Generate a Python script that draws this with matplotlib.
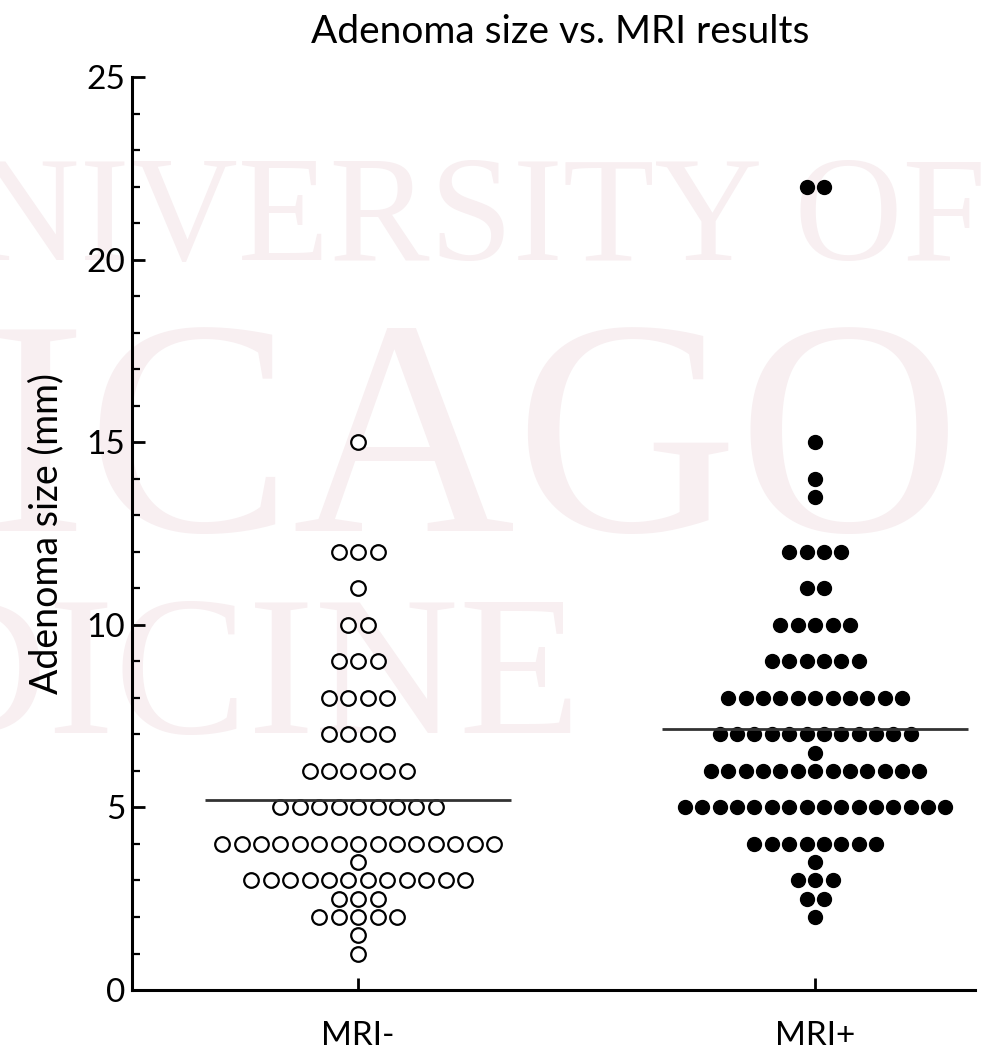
import numpy as np
import matplotlib.pyplot as plt

# adenoma size (mm) and how many patients sit on each size, per group
neg_sizes = [15, 12, 11, 10, 9, 8, 7, 6, 5, 4, 3.5, 3, 2.5, 2, 1.5, 1]
neg_counts = [1, 3, 1, 2, 3, 4, 4, 6, 9, 15, 1, 12, 3, 5, 1, 1]
pos_sizes = [22, 15, 14, 13.5, 12, 11, 10, 9, 8, 7, 6.5, 6, 5, 4, 3.5, 3, 2.5, 2]
pos_counts = [2, 1, 1, 1, 4, 2, 5, 6, 11, 12, 1, 13, 16, 8, 1, 3, 2, 1]
group_labels = ["MRI-", "MRI+"]
group_means = [5.2, 7.15]

FONT = ["Lato", "DejaVu Sans"]


def dot_columns(center, sizes, counts, step):
    xs, ys = [], []
    for s, n in zip(sizes, counts):
        off = (np.arange(n) - (n - 1) / 2.0) * step
        xs.extend(center + off)
        ys.extend([s] * n)
    return np.array(xs), np.array(ys)


fig = plt.figure(figsize=(9.86, 10.49), dpi=100)

# faint watermark behind the plot
wm = "#f8eff1"
wmfont = ["Liberation Serif", "DejaVu Serif"]
fig.text(1.0, 1 - 260 / 1049, "UNIVERSITY OF", ha="right", va="baseline",
         fontsize=108, family=wmfont, color=wm, zorder=0)
fig.text(0.975, 1 - 531 / 1049, "CHICAGO", ha="right", va="baseline",
         fontsize=222, family=wmfont, color=wm, zorder=0)
fig.text(0.59, 1 - 733 / 1049, "MEDICINE", ha="right", va="baseline",
         fontsize=144, family=wmfont, color=wm, zorder=0)

ax = fig.add_axes([0.134, 0.0562, 0.855, 0.8704])
ax.set_zorder(2)
ax.patch.set_alpha(0)

x0, y0 = dot_columns(0, neg_sizes, neg_counts, 0.0425)
x1, y1 = dot_columns(1, pos_sizes, pos_counts, 0.038)
ax.plot(x0, y0, "o", ms=10.5, mfc="white", mec="black", mew=1.6, ls="none")
ax.plot(x1, y1, "o", ms=10, mfc="black", mec="black", ls="none")

for i, m in enumerate(group_means):
    ax.hlines(m, i - 0.335, i + 0.335, color="#333333", lw=2)

ax.set_xlim(-0.4945, 1.35)
ax.set_ylim(0, 25)
ax.set_xticks([0, 1])
ax.set_xticklabels(group_labels)
ax.set_yticks(np.arange(0, 26, 5))
ax.set_yticks(np.arange(0, 26, 1), minor=True)

for side in ["top", "right"]:
    ax.spines[side].set_visible(False)
for side in ["left", "bottom"]:
    ax.spines[side].set_linewidth(2.2)

ax.tick_params(axis="y", which="major", direction="in", length=9, width=2,
               labelsize=24, pad=5)
ax.tick_params(axis="y", which="minor", direction="in", length=5.5, width=1.6)
ax.tick_params(axis="x", which="major", direction="in", length=9, width=2,
               labelsize=24, pad=22)
for lab in ax.get_xticklabels() + ax.get_yticklabels():
    lab.set_family(FONT)

ax.set_ylabel("Adenoma size (mm)", fontsize=27, family=FONT, labelpad=16)
fig.text(0.568, 1 - 43 / 1049, "Adenoma size vs. MRI results", ha="center",
         va="baseline", fontsize=28, family=FONT)

fig.savefig("out.png", dpi=100)
